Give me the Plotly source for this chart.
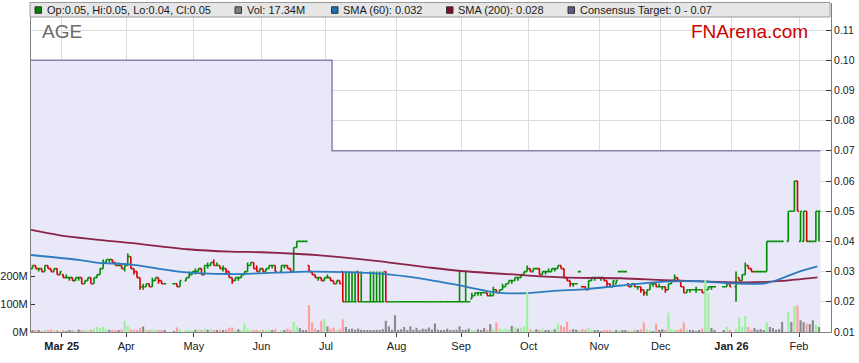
import pandas as pd
import plotly.graph_objects as go

# ---------------- DATA ----------------
# ASX holidays inside the window (no trading)
holidays = ["2025-04-18", "2025-04-21", "2025-04-25", "2025-06-09",
            "2025-12-25", "2025-12-26", "2026-01-01", "2026-01-26"]

# daily OHLC, in thousandths of a dollar (open, high, low, close)
feb25 = [(31,32,31,32),(32,32,31,31),(31,31,30,31),(31,31,30,30),(30,32,30,32),
         (32,32,31,31),(31,31,30,30),(30,31,30,31),(31,31,29,29),(29,30,29,30)]
mar25 = [(29,29,28,28),(28,29,28,28),(28,28,27,28),(28,28,27,27),(27,28,27,28),
         (28,28,27,28),(28,28,26,26),(26,27,26,27),(27,28,27,28),(28,28,26,26),
         (26,28,26,28),(28,29,28,29),(29,31,29,31),(31,34,31,33),(33,34,33,34),
         (34,34,33,34),(34,34,33,33),(33,33,32,32),(32,33,32,32),(32,32,31,31),
         (31,32,30,32)]
apr25 = [(32,36,32,35),(35,35,31,31),(31,31,29,30),(30,30,28,28),(28,28,24,25),
         (25,26,24,25),(25,26,25,26),(26,26,25,25),(25,28,25,27),(27,28,27,28),
         (28,28,26,27),(27,27,26,26),(26,26,26,26),(26,26,26,26),(26,26,25,25),
         (25,27,25,27),(27,28,27,28),(28,30,28,29),(29,30,29,30)]
may25 = [(30,31,29,30),(30,31,30,31),(31,31,29,29),(29,32,29,32),(32,33,31,32),
         (32,33,32,33),(33,34,32,32),(32,33,32,32),(32,32,31,31),(31,32,30,31),
         (31,31,29,30),(30,30,28,28),(28,28,26,27),(27,28,27,28),(28,28,27,28),
         (28,29,28,29),(29,30,29,30),(30,33,30,32),(32,33,32,33),(33,33,31,31),
         (31,32,30,30),(30,31,30,31)]
jun25 = [(31,31,30,30),(30,31,30,31),(31,32,31,32),(32,32,31,32),(32,32,30,30),
         (30,32,30,32),(32,32,31,32),(32,32,31,31),(31,31,30,30),(30,38,30,38),
         (38,40,38,40),(40,40,40,40),(40,40,40,40),(40,40,40,40),(32,32,30,30),
         (30,30,29,29),(29,29,28,28),(28,28,27,28),(28,28,27,27),(27,28,27,28)]
jul25 = [(28,29,28,28),(28,28,27,27),(27,27,26,26),(26,27,26,27),(27,27,26,26),
         (30,30,20,20),(20,30,20,20),(20,30,20,20),(20,30,20,20),(20,30,20,20),
         (30,30,20,20),(20,30,20,20),(20,20,20,20),(20,20,20,20),(20,30,20,20),
         (20,30,20,20),(20,30,20,20),(20,30,20,20),(20,30,20,20),(30,30,20,20),
         (20,20,20,20),(20,20,20,20),(20,20,20,20)]
aug25 = [(20,20,20,20)] * 20 + [(20,30,20,20)]
sep25 = [(20,20,20,20),(20,30,20,20),(20,20,20,20),(21,23,21,22),(22,23,22,23),
         (23,23,22,23),(23,23,22,23),(23,23,23,23),(23,23,22,22),(22,23,22,22),
         (22,25,22,24),(24,24,23,23),(23,24,23,24),(24,26,24,25),(25,26,25,26),
         (26,27,26,27),(27,27,26,27),(27,28,27,28),(28,28,27,28),(28,29,28,29),
         (29,30,29,30),(30,32,30,31)]
oct25 = [(31,31,30,30),(30,31,30,31),(31,31,31,31),(31,31,29,29),(29,30,29,30),
         (30,30,29,30),(30,31,30,30),(30,31,30,31),(31,31,30,31),(31,32,31,32),
         (32,32,31,31),(31,31,28,28),(28,28,27,27),(27,27,25,26),(26,26,25,26),
         (26,26,26,26),(30,30,30,30),(25,25,25,25),(25,25,24,24),(24,27,24,27),
         (27,28,27,28),(28,28,27,28),(28,28,28,28)]
nov25 = [(28,28,27,28),(28,28,27,27),(27,27,25,26),(26,26,25,25),(25,27,25,27),
         (26,27,26,27),(30,30,30,30),(30,30,30,30),(30,30,30,30),(26,26,25,25),
         (25,26,25,26),(26,26,25,25),(25,25,24,25),(25,25,23,24),(24,24,22,23),
         (23,24,22,24),(24,26,24,26),(26,26,25,26),(26,26,25,25),(25,26,25,25)]
dec25 = [(25,25,24,25),(25,25,23,24),(24,26,24,26),(26,27,26,27),(27,29,27,28),
         (28,28,27,27),(27,27,25,25),(25,25,23,23),(23,24,23,24),(24,24,23,24),
         (24,24,24,24),(24,25,23,24),(24,24,24,24),(24,24,23,23),(23,25,23,24),
         (24,25,24,25),(25,25,24,25),(25,25,25,25),(25,25,25,25),(25,26,25,26),
         (26,26,25,25)]
jan26 = [(25,30,20,26),(28,28,27,27),(27,29,27,29),(29,33,29,32),(32,32,31,31),
         (31,31,30,30),(30,30,30,30),(30,30,30,30),(30,30,30,30),(30,30,30,30),
         (30,40,30,40),(40,40,40,40),(40,40,40,40),(40,40,40,40),(40,40,40,40),
         (40,40,40,40),(40,50,40,50),(50,50,50,50),(50,60,50,60),(60,60,50,50)]
feb26 = [(40,50,40,50),(40,50,40,50),(50,50,40,40),(40,40,40,40),(40,40,40,40),
         (40,50,40,50),(50,50,40,50)]

# daily volume, millions of shares
vol_feb25 = [6, 4, 5, 3, 8, 5, 9, 4, 6, 3]
vol_mar25 = [5, 3, 7, 4, 3, 9, 6, 4, 5, 8, 12, 18, 14, 20, 10, 6, 8, 5, 7, 9, 40]
vol_apr25 = [22, 10, 8, 6, 14, 20, 8, 6, 10, 8, 5, 6, 4, 3, 16, 10, 8, 6, 5]
vol_may25 = [8, 10, 6, 12, 8, 10, 6, 5, 8, 6, 9, 15, 16, 6, 10, 4, 31, 12, 6, 5, 4, 6]
vol_jun25 = [5, 4, 8, 6, 10, 5, 7, 12, 8, 37, 20, 14, 6, 4, 96, 35, 12, 6, 40, 46]
vol_jul25 = [20, 12, 16, 8, 10, 45, 18, 10, 12, 8, 12, 8, 6, 5, 7, 6, 8, 5, 10, 40, 20, 8, 60]
vol_aug25 = [6, 10, 18, 7, 20, 8, 15, 6, 12, 10, 16, 9, 30, 8, 6, 7, 12, 5, 6, 8, 20]
vol_sep25 = [6, 8, 12, 6, 5, 10, 6, 14, 8, 28, 9, 35, 12, 10, 12, 10, 22, 16, 12, 16, 20, 144]
vol_oct25 = [10, 6, 10, 8, 12, 6, 6, 8, 10, 30, 24, 18, 36, 8, 10, 8, 6, 10, 8, 14, 6, 4, 6]
vol_nov25 = [3, 4, 6, 5, 3, 4, 5, 6, 5, 3, 4, 6, 5, 10, 34, 10, 5, 3, 30, 6]
vol_dec25 = [10, 6, 69, 10, 8, 5, 12, 34, 8, 4, 6, 3, 5, 12, 185, 138, 14, 4, 5, 18, 6]
vol_jan26 = [10, 51, 20, 58, 18, 8, 14, 6, 10, 4, 36, 18, 14, 8, 10, 36, 70, 36, 93, 94]
vol_feb26 = [42, 35, 30, 28, 42, 25, 17.34]

month_spans = [("2025-02-17", "2025-02-28"), ("2025-03-01", "2025-03-31"),
               ("2025-04-01", "2025-04-30"), ("2025-05-01", "2025-05-31"),
               ("2025-06-01", "2025-06-30"), ("2025-07-01", "2025-07-31"),
               ("2025-08-01", "2025-08-31"), ("2025-09-01", "2025-09-30"),
               ("2025-10-01", "2025-10-31"), ("2025-11-01", "2025-11-30"),
               ("2025-12-01", "2025-12-31"), ("2026-01-01", "2026-01-31"),
               ("2026-02-01", "2026-02-10")]
ohlc_months = [feb25, mar25, apr25, may25, jun25, jul25, aug25, sep25,
               oct25, nov25, dec25, jan26, feb26]
vol_months = [vol_feb25, vol_mar25, vol_apr25, vol_may25, vol_jun25, vol_jul25,
              vol_aug25, vol_sep25, vol_oct25, vol_nov25, vol_dec25, vol_jan26, vol_feb26]

# moving averages (dollars x 1000)
sma60_dates = ["2025-02-17", "2025-03-11", "2025-03-19", "2025-04-02", "2025-04-24",
               "2025-05-19", "2025-05-30", "2025-06-23", "2025-07-10", "2025-07-30",
               "2025-08-18", "2025-08-29", "2025-09-15", "2025-09-22", "2025-10-01",
               "2025-10-13", "2025-10-28", "2025-11-12", "2025-12-02", "2025-12-17",
               "2026-01-02", "2026-01-16", "2026-01-23", "2026-01-30", "2026-02-10"]
sma60_vals = [35.5, 33.8, 32.9, 32.4, 30.0, 29.2, 29.4, 30.0, 29.8, 29.0,
              27.2, 25.5, 23.3, 22.8, 22.9, 23.6, 24.2, 25.4, 26.7, 26.8,
              26.1, 26.1, 27.6, 29.6, 31.7]
sma200_dates = ["2025-02-17", "2025-02-28", "2025-03-19", "2025-04-03", "2025-04-29",
                "2025-05-19", "2025-06-02", "2025-06-30", "2025-07-24", "2025-08-18",
                "2025-09-01", "2025-09-26", "2025-10-20", "2025-11-12", "2025-12-02",
                "2025-12-23", "2026-01-08", "2026-01-23", "2026-02-10"]
sma200_vals = [43.8, 42.1, 40.5, 39.4, 37.4, 36.6, 36.4, 35.3, 33.5, 31.3,
               30.2, 28.9, 28.0, 27.8, 27.2, 26.7, 26.4, 26.9, 28.1]

# consensus target (step)
target_dates = ["2025-02-17", "2025-07-03", "2026-02-11"]
target_vals = [0.10, 0.07, 0.07]

month_ticks = ["2025-03-03", "2025-04-01", "2025-05-01", "2025-06-02", "2025-07-01",
               "2025-08-01", "2025-09-01", "2025-10-01", "2025-11-03", "2025-12-01",
               "2026-01-01", "2026-02-02"]
month_labels = ["<b>Mar 25</b>", "Apr", "May", "Jun", "Jul", "Aug", "Sep", "Oct",
                "Nov", "Dec", "<b>Jan 26</b>", "Feb"]
price_ticks = [0.01, 0.02, 0.03, 0.04, 0.05, 0.06, 0.07, 0.08, 0.09, 0.10, 0.11]
vol_ticks = [0, 100, 200]
vol_tick_labels = ["0M", "100M", "200M"]

# ---------------- BUILD SERIES ----------------
dates, O, H, L, C, V = [], [], [], [], [], []
for (s, e), rows, vols in zip(month_spans, ohlc_months, vol_months):
    days = [d for d in pd.bdate_range(s, e) if d.strftime("%Y-%m-%d") not in holidays]
    assert len(days) == len(rows) == len(vols), (s, len(days), len(rows), len(vols))
    for d, (a, b, lo, cl), v in zip(days, rows, vols):
        dates.append(d + pd.Timedelta(hours=12))
        O.append(a / 1000); H.append(b / 1000); L.append(lo / 1000); C.append(cl / 1000)
        V.append(v)

up_idx, dn_idx, vcol = [], [], []
GREEN, RED = "#008a00", "#d40000"
for i in range(len(C)):
    prev = C[i - 1] if i else C[i]
    if C[i] > O[i] or (C[i] == O[i] and C[i] >= prev):
        up_idx.append(i)
    else:
        dn_idx.append(i)
    if C[i] > prev:
        vcol.append("#9ef09e")
    elif C[i] < prev:
        vcol.append("#ff9c9c")
    else:
        vcol.append("#8a8a8a")

def sub(arr, idx):
    return [arr[i] for i in idx]

FONT = "Arial, Liberation Sans, sans-serif"
Y_BOTTOM = 0.01
L0, R0, T0, B0 = 31, 831, 3, 332
Y_TOP = Y_BOTTOM + (B0 - T0) / 3020

fig = go.Figure()

# consensus target outline (the area itself is a shape drawn between grid and traces)
fig.add_trace(go.Scatter(
    x=target_dates, y=target_vals, mode="lines", line=dict(shape="hv", color="#8585aa", width=1.5),
    hoverinfo="skip"))

fig.add_trace(go.Scatter(
    x=sma200_dates, y=[v / 1000 for v in sma200_vals], mode="lines",
    line=dict(color="#8c2348", width=1.8, shape="spline", smoothing=0.8), hoverinfo="skip"))
fig.add_trace(go.Scatter(
    x=sma60_dates, y=[v / 1000 for v in sma60_vals], mode="lines",
    line=dict(color="#2c7cbf", width=1.8, shape="spline", smoothing=0.8), hoverinfo="skip"))

for idx, col in ((up_idx, GREEN), (dn_idx, RED)):
    fig.add_trace(go.Ohlc(
        x=sub(dates, idx), open=sub(O, idx), high=sub(H, idx), low=sub(L, idx), close=sub(C, idx),
        increasing=dict(line=dict(color=col, width=1.6)),
        decreasing=dict(line=dict(color=col, width=1.6)),
        tickwidth=0.5, hoverinfo="skip"))

fig.add_trace(go.Bar(x=dates, y=V, marker=dict(color=vcol, line=dict(width=0)),
                     yaxis="y2", hoverinfo="skip"))

# ---------------- LAYOUT ----------------
def px(x):
    return (x - L0) / (R0 - L0)
def py(y):
    return (B0 - y) / (B0 - T0)

shapes = []
for i in range(len(target_dates) - 1):
    shapes.append(dict(type="rect", xref="x", yref="y", x0=target_dates[i], x1=target_dates[i + 1],
                       y0=Y_BOTTOM, y1=target_vals[i], fillcolor="rgb(232,232,248)",
                       line=dict(width=0), layer="between"))
shapes.append(dict(type="rect", xref="paper", yref="paper", x0=px(30), x1=px(830),
                   y0=py(17), y1=py(2.5), fillcolor="#e6e6e6", line=dict(color="#9a9a9a", width=1),
                   layer="above"))
legend_items = [
    (35, "#008000", f"Op:{O[-1]:.2f}, Hi:{H[-1]:.2f}, Lo:{L[-1]:.2f}, Cl:{C[-1]:.2f}"),
    (235, "#808080", f"Vol: {V[-1]:.2f}M"),
    (331.5, "#1f6fb0", f"SMA (60): {sma60_vals[-1] / 1000:.3f}"),
    (446.5, "#7a0e2c", f"SMA (200): {sma200_vals[-1] / 1000:.3f}"),
    (568, "#5c5c8e", f"Consensus Target: 0 - {target_vals[-1]:.2f}"),
]
annotations = []
for x0, col, txt in legend_items:
    shapes.append(dict(type="rect", xref="paper", yref="paper", x0=px(x0), x1=px(x0 + 6.5),
                       y0=py(13.3), y1=py(6.8), fillcolor=col, line=dict(color="#333", width=1),
                       layer="above"))
    annotations.append(dict(xref="paper", yref="paper", x=px(x0 + 9.5), y=py(10.2),
                            xanchor="left", yanchor="middle", showarrow=False, text=txt,
                            font=dict(family=FONT, size=11, color="#1a1a1a")))
annotations.append(dict(xref="paper", yref="paper", x=px(39.5), y=py(32), xanchor="left",
                        yanchor="middle", showarrow=False, text="AGE",
                        font=dict(family=FONT, size=19, color="#6a6a6a")))
annotations.append(dict(xref="paper", yref="paper", x=px(810), y=py(32), xanchor="right",
                        yanchor="middle", showarrow=False, text="FNArena.com",
                        font=dict(family=FONT, size=19, color="#cc0000")))

fig.update_layout(
    width=859, height=363,
    margin=dict(l=L0, r=859 - R0, t=T0, b=363 - B0, autoexpand=False),
    paper_bgcolor="white", plot_bgcolor="white",
    showlegend=False, bargap=0.3,
    shapes=shapes, annotations=annotations,
    xaxis=dict(type="date", range=["2025-02-17", "2026-02-16 10:00"],
               rangebreaks=[dict(bounds=["sat", "mon"])],
               tickvals=month_ticks, ticktext=month_labels,
               showgrid=True, gridcolor="#dcdcdc", gridwidth=1,
               ticks="outside", ticklen=4, tickcolor="#444",
               showline=True, linecolor="#808080", linewidth=1,
               tickfont=dict(family=FONT, size=11, color="#1a1a1a"),
               rangeslider=dict(visible=False), automargin=False),
    yaxis=dict(side="right", range=[Y_BOTTOM, Y_TOP],
               tickvals=price_ticks, ticktext=[f"{t:.2f}" for t in price_ticks],
               showgrid=True, gridcolor="#dcdcdc", gridwidth=1, zeroline=False,
               ticks="inside", ticklen=5, tickcolor="#333",
               showline=True, linecolor="#808080", linewidth=1,
               tickfont=dict(family=FONT, size=10.5, color="#1a1a1a"), automargin=False),
    yaxis2=dict(overlaying="y", side="left", range=[0, (B0 - T0) / 28 * 100],
                tickvals=vol_ticks, ticktext=vol_tick_labels, showgrid=False, zeroline=False,
                ticks="inside", ticklen=4, tickcolor="#333",
                showline=True, linecolor="#808080", linewidth=1,
                tickfont=dict(family=FONT, size=11, color="#1a1a1a"), automargin=False),
)

fig.write_html("out.html", config={"displayModeBar": False},
               post_script="document.body.style.margin='0px';")
